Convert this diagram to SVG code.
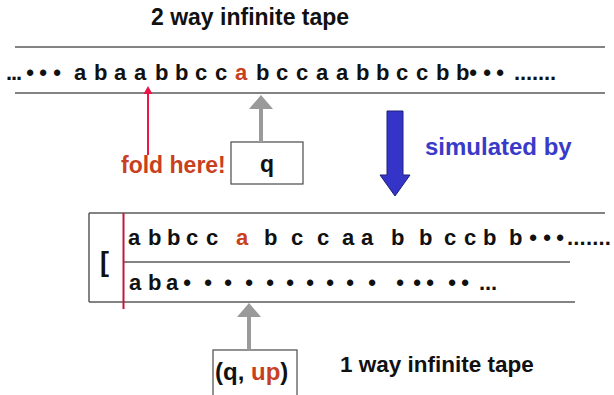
<svg xmlns="http://www.w3.org/2000/svg" width="614" height="395" viewBox="0 0 614 395">
  <style>
    text { font-family: "Liberation Sans", Arial, sans-serif; font-weight: bold; fill: #111; }
    .sym { font-size: 22px; }
    .hl { fill: #c8401e; }
    .rule { stroke: #5a5a5a; stroke-width: 1.5; fill: none; }
    .box { fill: #fff; stroke: #4a4a4a; stroke-width: 1.2; }
    .head { stroke: #9a9a9a; stroke-width: 4; fill: none; }
    .headtip { fill: #9a9a9a; }
  </style>
  <rect width="614" height="395" fill="#fff"/>

  <!-- two-way tape -->
  <g id="tape-2way">
    <text x="151" y="25" style="font-size:23px">2 way infinite tape</text>
    <line class="rule" x1="15" y1="47" x2="605" y2="47"/>
    <line class="rule" x1="15" y1="93" x2="605" y2="93"/>
    <text class="sym" x="6 11 16 26.2 39.2 53.2" y="80">...•••</text>
    <text class="sym" y="80" x="74 94 114 134 155 175 195 215 235 256 276 296 316 336 356 376 396 416 436 456">abaabbcc<tspan class="hl">a</tspan>bccaabbccbb</text>
    <text class="sym" x="469.2 483.2 496.2 514 520 526 532 538 544 550" y="80">•••.......</text>
  </g>

  <!-- fold marker label -->
  <g id="fold-label">
    <text class="hl" x="121" y="173" style="font-size:23px">fold here!</text>
  </g>

  <!-- head with state q -->
  <g id="head-q">
    <rect class="box" x="231" y="142" width="72" height="42"/>
    <text x="267" y="172" text-anchor="middle" style="font-size:23px">q</text>
  </g>

  <!-- simulated by -->
  <g id="simulated">
    <path d="M387,111 H403 V175 H410 L395,196 L380,175 H387 Z" fill="#3434c8" stroke="#1e1e78" stroke-width="1"/>
    <text x="425" y="155" style="font-size:24px; fill:#3a3ac8">simulated by</text>
  </g>

  <!-- one-way tape with two tracks -->
  <g id="tape-1way">
    <line class="rule" x1="89" y1="213" x2="605" y2="213"/>
    <line class="rule" x1="89" y1="213" x2="89" y2="302"/>
    <line class="rule" x1="89" y1="302" x2="575" y2="302"/>
    <line class="rule" x1="123" y1="262" x2="570" y2="262"/>
    <line x1="123.5" y1="213" x2="123.5" y2="309" stroke="#c8143c" stroke-width="2"/>
    <text x="100" y="271" style="font-size:27px">[</text>
    <text class="sym" y="245" x="128 148 167 186 206 236 264 291 317 342 361 391 419 444 464 483 509">abbcc<tspan class="hl">a</tspan>bccaabbccbb</text>
    <text class="sym" x="529.2 543.2 556.2 567 573.3 579.6 585.9 592.2 598.5 604.8" y="245">•••.......</text>
    <text class="sym" y="290" x="129 148 166">aba</text>
    <text class="sym" y="290" x="183.2 204.2 224.2 245.2 266.2 286.2 306.2 326.2 346.2 368.2 396.2 413.2 426.2 448.2 461.2 479 485 491">•••••••••••••••...</text>
  </g>

  <!-- head with state (q, up) -->
  <g id="head-qup">
    <rect class="box" x="213" y="350" width="84" height="50"/>
    <text x="215" y="380" style="font-size:24px">(q, <tspan class="hl">up</tspan>)</text>
  </g>

  <g id="label-1way">
    <text x="340" y="372" style="font-size:22.5px">1 way infinite tape</text>
  </g>

  <!-- connectors -->
  <g id="connectors">
    <line x1="148" y1="92" x2="148" y2="155" stroke="#e8174a" stroke-width="2"/>
    <path d="M148,86 L152.5,94 H143.5 Z" fill="#e8174a"/>
    <line class="head" x1="261" y1="107" x2="261" y2="142"/>
    <path class="headtip" d="M261,95 L273,109 H249 Z"/>
    <line class="head" x1="249" y1="316" x2="249" y2="350"/>
    <path class="headtip" d="M249,303 L261,317 H237 Z"/>
  </g>
</svg>
